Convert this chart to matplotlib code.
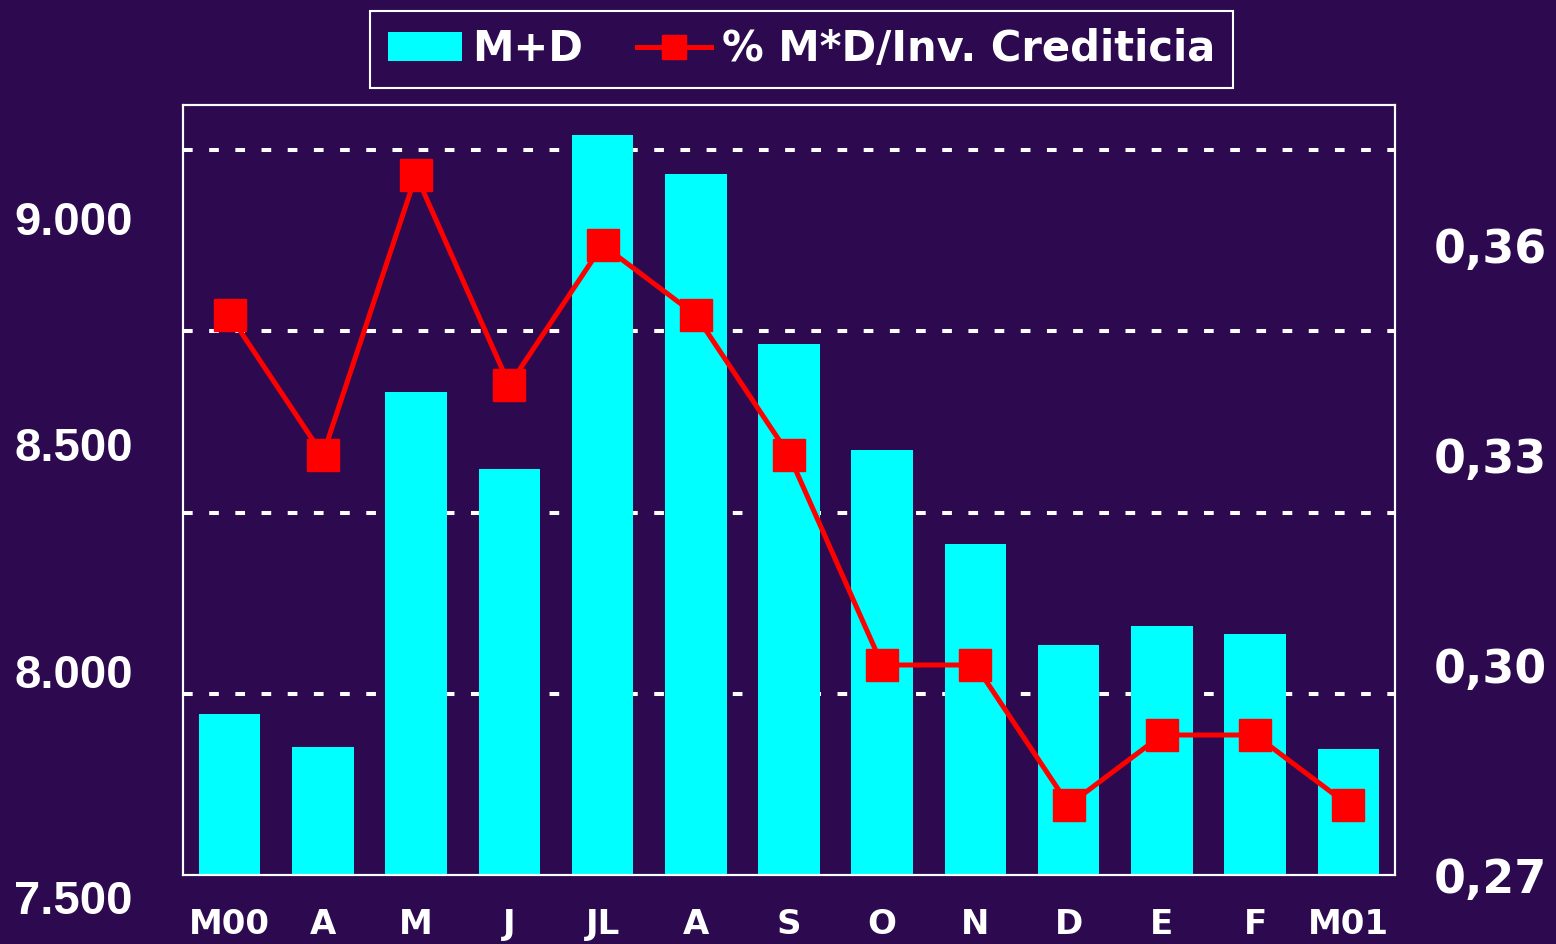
import matplotlib
matplotlib.use("Agg")
import matplotlib.pyplot as plt
from matplotlib.transforms import ScaledTranslation

# data
meses = ['M00', 'A', 'M', 'J', 'JL', 'A', 'S', 'O', 'N', 'D', 'E', 'F', 'M01']
md = [7856, 7783, 8567, 8397, 9133, 9047, 8673, 8439, 8231, 8008, 8050, 8033, 7778]
pct = [0.35, 0.33, 0.37, 0.34, 0.36, 0.35, 0.33, 0.30, 0.30, 0.28, 0.29, 0.29, 0.28]

left_ticks = [7500, 8000, 8500, 9000]
left_labels = ['7.500', '8.000', '8.500', '9.000']
grid_vals = [7900, 8300, 8700, 9100]
right_ticks = [0.27, 0.30, 0.33, 0.36]
right_labels = ['0,27', '0,30', '0,33', '0,36']

bg = '#2d0a50'

fig = plt.figure(figsize=(15.56, 9.44), dpi=100, facecolor=bg)
ax = fig.add_axes([183/1556, 69/944, 1212/1556, 770/944])
ax.set_facecolor(bg)
x = list(range(len(meses)))

ax.bar(x, md, width=0.66, color='#00ffff', zorder=2, label='M+D')
ax.set_xlim(-0.5, len(meses) - 0.5)
ax.set_ylim(7500, 9200)

ax.set_yticks(left_ticks)
ax.set_yticklabels(left_labels, fontsize=34, fontweight='bold',
                   family='Liberation Sans', color='white')
ax.set_yticks(grid_vals, minor=True)
ax.yaxis.grid(True, which='minor', color='white', linewidth=2.9,
              linestyle=(0, (2.4, 4.1)), zorder=1)
ax.tick_params(axis='y', which='both', length=0, pad=36)
# the left labels in the original sit a little below their values
off = ScaledTranslation(0, -0.22, fig.dpi_scale_trans)
for lab in ax.get_yticklabels():
    lab.set_transform(lab.get_transform() + off)

ax.set_xticks(x)
ax.set_xticklabels(meses, fontsize=24.5, fontweight='bold', color='white')
ax.tick_params(axis='x', length=0, pad=24)

ax2 = ax.twinx()
ax2.plot(x, pct, color='#ff0000', linewidth=3.6, marker='s', markersize=23,
         label='% M*D/Inv. Crediticia', zorder=3)
ax2.set_ylim(0.27, 0.38)
ax2.set_yticks(right_ticks)
ax2.set_yticklabels(right_labels, fontsize=33, fontweight='bold', color='white')
ax2.tick_params(axis='y', length=0, pad=28)

for a in (ax, ax2):
    for s in a.spines.values():
        s.set_color('white')
        s.set_linewidth(1.5)

h1, l1 = ax.get_legend_handles_labels()
h2, l2 = ax2.get_legend_handles_labels()
leg = fig.legend(h1 + h2, l1 + l2, loc='center', bbox_to_anchor=(0.515, 0.948),
                 ncol=2, frameon=True, fancybox=False, facecolor=bg,
                 edgecolor='white', framealpha=1, handlelength=1.78,
                 handletextpad=0.25, columnspacing=1.3, borderpad=0.42,
                 markerscale=0.78, prop={'size': 30, 'weight': 'bold'})
leg.get_frame().set_linewidth(1.5)
for t in leg.get_texts():
    t.set_color('white')

fig.savefig('out.png', dpi=100, facecolor=bg)
